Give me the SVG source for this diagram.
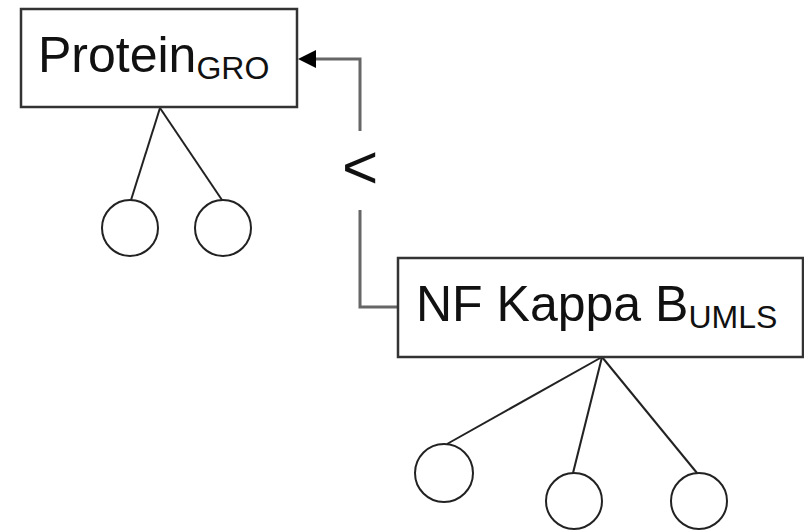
<svg xmlns="http://www.w3.org/2000/svg" width="804" height="531" viewBox="0 0 804 531">
<style>
.box{fill:#fff;stroke:#333;stroke-width:2.5}
.lbl{font-family:"Liberation Sans",Arial,sans-serif;font-size:50px;fill:#111}
.sub{font-size:32px}
.edge{fill:none;stroke:#222;stroke-width:2}
.leaf{fill:#fff;stroke:#222;stroke-width:2}
.conn{fill:none;stroke:#666;stroke-width:3}
</style>
<rect width="804" height="531" fill="#fff"/>
<g id="connectors">
<path class="conn" d="M398,307 H360 V210"/>
<path class="conn" d="M360,131 V59 H314"/>
<polygon points="298,59 316,50 316,68" fill="#000"/>
<text x="360" y="188" text-anchor="middle" style="font-family:'Liberation Sans',Arial,sans-serif;font-size:62px;fill:#111">&lt;</text>
<line class="edge" x1="160" y1="108" x2="131" y2="200"/>
<line class="edge" x1="160" y1="108" x2="222" y2="200"/>
<line class="edge" x1="602" y1="357" x2="447" y2="444"/>
<line class="edge" x1="602" y1="357" x2="573" y2="473"/>
<line class="edge" x1="602" y1="357" x2="697" y2="473"/>
</g>
<g id="protein">
<rect class="box" x="21" y="9" width="276" height="98"/>
<text class="lbl" x="38" y="72">Protein<tspan class="sub" dy="7">GRO</tspan></text>
</g>
<g id="nfkappab">
<rect class="box" x="398" y="258" width="405" height="99"/>
<text class="lbl" x="416" y="321">NF Kappa B<tspan class="sub" dy="7">UMLS</tspan></text>
</g>
<g id="protein-child-1"><circle class="leaf" cx="130" cy="228" r="28"/></g>
<g id="protein-child-2"><circle class="leaf" cx="223" cy="228" r="28"/></g>
<g id="nf-child-1"><circle class="leaf" cx="444" cy="473" r="29"/></g>
<g id="nf-child-2"><circle class="leaf" cx="574" cy="501" r="28"/></g>
<g id="nf-child-3"><circle class="leaf" cx="699" cy="501" r="28"/></g>
</svg>
